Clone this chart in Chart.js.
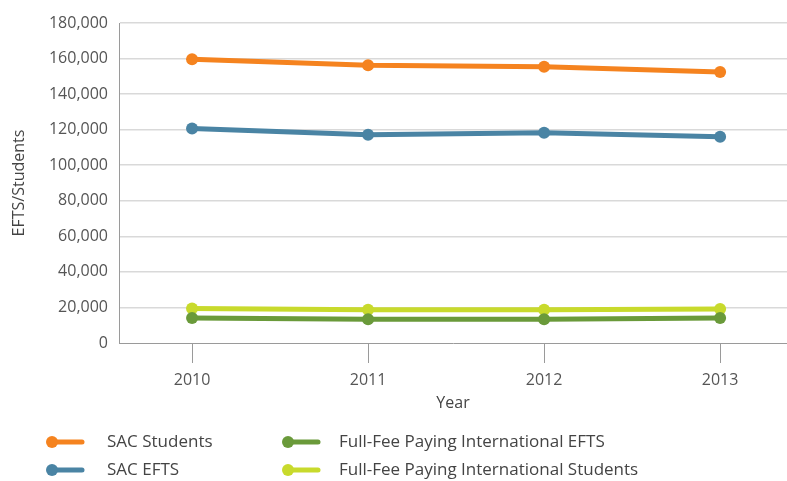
<!DOCTYPE html>
<html>
<head>
<meta charset="utf-8">
<script src="https://cdn.jsdelivr.net/npm/chart.js@4.4.1/dist/chart.umd.min.js"></script>
<style>
  html, body { margin: 0; padding: 0; background: #fff; }
  #wrap { width: 787px; height: 481px; }
</style>
</head>
<body>
<div id="wrap"><canvas id="myChart" width="787" height="481"></canvas></div>
<script>
const years = [2010, 2011, 2012, 2013];
const sacStudents = [159600, 156300, 155400, 152500];
const sacEfts = [120700, 117200, 118300, 116000];
const ffpEfts = [14000, 13300, 13300, 14100];
const ffpStudents = [19400, 18700, 18700, 19100];
const yTicks = [0, 20000, 40000, 60000, 80000, 100000, 120000, 140000, 160000, 180000];

const FONT = "'Open Sans', sans-serif";

function pts(vals) {
    return years.map((y, i) => ({ x: y, y: vals[i] }));
}

function line(label, vals, color) {
    return {
        label: label,
        data: pts(vals),
        borderColor: color,
        backgroundColor: color,
        pointBackgroundColor: color,
        pointBorderColor: color,
        borderWidth: 5,
        pointRadius: 6,
        pointBorderWidth: 0,
        tension: 0,
        fill: false,
    };
}

// two-column legend like the original
const legendPlugin = {
    id: 'colLegend',
    afterDraw(chart) {
        const c = chart.ctx;
        const cols = [52, 288];
        const textX = [107, 339];
        const rows = [442, 470];
        const slots = [[0, 0], [0, 1], [1, 0], [1, 1]];
        chart.data.datasets.forEach((ds, i) => {
            const x = cols[slots[i][0]];
            const y = rows[slots[i][1]];
            c.save();
            c.strokeStyle = ds.borderColor;
            c.fillStyle = ds.borderColor;
            c.lineWidth = 5;
            c.lineCap = 'round';
            c.beginPath();
            c.moveTo(x, y);
            c.lineTo(x + 30, y);
            c.stroke();
            c.beginPath();
            c.arc(x, y, 6, 0, Math.PI * 2);
            c.fill();
            c.fillStyle = '#444';
            c.font = '17px ' + FONT;
            c.textBaseline = 'middle';
            c.textAlign = 'left';
            c.fillText(ds.label, textX[slots[i][0]], y);
            c.restore();
        });
    }
};

const ctx = document.getElementById('myChart').getContext('2d');
const myChart = new Chart(ctx, {
    type: 'line',
    data: {
        datasets: [
            line('SAC Students', sacStudents, '#f5831f'),
            line('SAC EFTS', sacEfts, '#4a84a4'),
            line('Full-Fee Paying International EFTS', ffpEfts, '#6a9a3a'),
            line('Full-Fee Paying International Students', ffpStudents, '#c8da2c'),
        ]
    },
    plugins: [legendPlugin],
    options: {
        responsive: false,
        animation: false,
        layout: {
            autoPadding: false,
            padding: { top: 23, right: 0, bottom: 68, left: 0 }
        },
        plugins: {
            legend: { display: false },
            tooltip: { enabled: false }
        },
        scales: {
            x: {
                type: 'linear',
                min: 2009.585,
                max: 2013.38,
                afterBuildTicks: (scale) => {
                    scale.ticks = years.map(v => ({ value: v }));
                },
                afterFit: (scale) => {
                    scale.height = 70;
                    scale.paddingLeft = 0;
                    scale.paddingRight = 0;
                },
                grid: {
                    drawOnChartArea: false,
                    drawTicks: true,
                    tickLength: 20,
                    color: '#9a9a9a',
                    lineWidth: 1
                },
                border: { display: true, color: '#9a9a9a', width: 1 },
                ticks: {
                    color: '#555',
                    font: { family: FONT, size: 16 },
                    padding: 8,
                    maxRotation: 0,
                    callback: (v) => String(v)
                },
                title: {
                    display: true,
                    text: 'Year',
                    color: '#444',
                    font: { family: FONT, size: 16 },
                    padding: { top: 0, bottom: 0 }
                }
            },
            y: {
                min: 0,
                max: 180000,
                afterBuildTicks: (scale) => {
                    scale.ticks = yTicks.map(v => ({ value: v }));
                },
                afterFit: (scale) => { scale.width = 119; },
                grid: {
                    drawTicks: false,
                    color: (c) => c.index === 0 ? 'rgba(0,0,0,0)' : '#d9d9d9',
                    lineWidth: 1.5
                },
                border: { display: true, color: '#9a9a9a', width: 1 },
                ticks: {
                    color: '#555',
                    font: { family: FONT, size: 16 },
                    padding: 11,
                    callback: (v) => v.toLocaleString('en-US')
                },
                title: {
                    display: true,
                    text: 'EFTS/Students',
                    color: '#444',
                    font: { family: FONT, size: 16 },
                    padding: { top: 10, bottom: 0 }
                }
            }
        }
    }
});
</script>
</body>
</html>
